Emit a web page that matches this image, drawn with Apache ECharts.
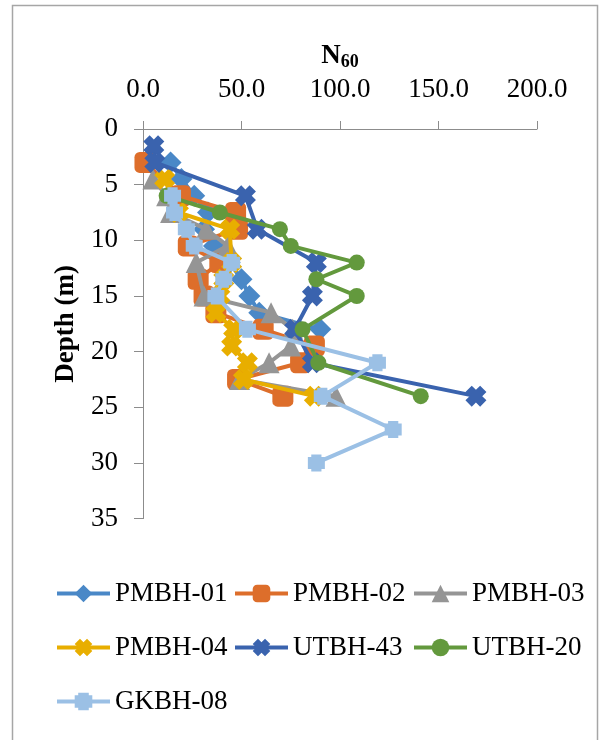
<!DOCTYPE html>
<html>
<head>
<meta charset="utf-8">
<script src="https://cdn.jsdelivr.net/npm/echarts@6/dist/echarts.min.js"></script>
<style>html,body{margin:0;padding:0;background:#fff;}#c{width:601px;height:740px;}</style>
</head>
<body>
<div id="c"></div>
<script>
// ---- data (N60 vs depth in m) ----
const xTicks = [0, 50, 100, 150, 200];
const yTicks = [0, 5, 10, 15, 20, 25, 30, 35];

const pmbh01Depth = [3, 4.5, 6, 7.5, 9, 10.5, 12, 13.5, 15, 16.5, 18];
const pmbh01N     = [14, 19.5, 26, 33, 31, 36, 44, 50, 54, 59, 90];

const pmbh02Depth = [3, 6, 7.5, 9, 10.5, 12, 13.5, 15, 16.5, 18, 19.5, 21, 22.5, 24];
const pmbh02N     = [1, 19, 47, 48, 23, 39, 28, 31, 37, 61, 87, 80, 48, 71];

const pmbh03Depth = [4.5, 6, 7.5, 9, 10.5, 12, 15, 16.5, 18, 19.5, 21, 22.5, 24];
const pmbh03N     = [5, 12, 14, 32, 43, 27, 31, 65, 76, 75, 64, 49, 98];

const pmbh04Depth = [4.5, 7.5, 9, 12, 13.5, 15, 16.5, 18, 19.5, 21, 22.5, 24];
const pmbh04N     = [11, 18, 44, 45, 41, 39, 37, 46, 45, 53, 51, 87];

const utbh43Depth = [1.5, 3, 6, 9, 12, 15, 18, 21, 24];
const utbh43N     = [5.5, 6, 52, 58, 88, 86, 77, 86, 169];

const utbh20Depth = [6, 7.5, 9, 10.5, 12, 13.5, 15, 18, 21, 24];
const utbh20N     = [12, 39, 69.5, 75, 108.5, 88, 108.5, 81, 89, 141];

const gkbh08Depth = [6, 7.5, 9, 10.5, 12, 13.5, 15, 18, 21, 24, 27, 30];
const gkbh08N     = [15, 16, 22, 26, 45, 41, 37, 53, 119, 91, 127, 88];

const seriesNames = ['PMBH-01', 'PMBH-02', 'PMBH-03', 'PMBH-04', 'UTBH-43', 'UTBH-20', 'GKBH-08'];
const colors = ['#4A88C7', '#DD6E2B', '#959595', '#E8AE00', '#3A63AE', '#63993D', '#9BC0E5'];

// ---- build ----
const pairs = (n, d) => n.map((v, i) => [v, d[i]]);
const X_SYMBOL = 'path://M0,3 L3,0 L5,2 L7,0 L10,3 L8,5 L10,7 L7,10 L5,8 L3,10 L0,7 L2,5 Z';
const PLUS_SQ = 'path://M2,0 L8,0 L8,1.5 L10,1.5 L10,8.5 L8,8.5 L8,10 L2,10 L2,8.5 L0,8.5 L0,1.5 L2,1.5 Z';
const defs = [
  {d: pairs(pmbh01N, pmbh01Depth), sym: 'diamond', size: 22},
  {d: pairs(pmbh02N, pmbh02Depth), sym: 'roundRect', size: 21},
  {d: pairs(pmbh03N, pmbh03Depth), sym: 'triangle', size: 21},
  {d: pairs(pmbh04N, pmbh04Depth), sym: X_SYMBOL, size: 21},
  {d: pairs(utbh43N, utbh43Depth), sym: X_SYMBOL, size: 21},
  {d: pairs(utbh20N, utbh20Depth), sym: 'circle', size: 16},
  {d: pairs(gkbh08N, gkbh08Depth), sym: PLUS_SQ, size: 17}
];
const series = defs.map((s, i) => ({
  name: seriesNames[i],
  type: 'line',
  data: s.d,
  symbol: s.sym,
  symbolSize: s.size,
  showAllSymbol: true,
  lineStyle: {color: colors[i], width: 4},
  itemStyle: {color: colors[i]},
  emphasis: {disabled: true},
  animation: false,
  z: 2 + i
}));

const font = 'Liberation Serif';
const legendBase = {
  orient: 'vertical', itemWidth: 53, itemHeight: 22, itemGap: 27, padding: 0,
  top: 580, textStyle: {fontFamily: font, fontSize: 27, color: '#000'},
  lineStyle: {width: 4},
  selectedMode: false
};

const option = {
  backgroundColor: '#fff',
  animation: false,
  color: colors,
  grid: {left: 143, top: 129, width: 394, height: 389.6},
  xAxis: {
    type: 'value', position: 'top', min: xTicks[0], max: xTicks[xTicks.length - 1], interval: 50,
    name: '{a|N}{b|60}', nameLocation: 'middle', nameGap: 45,
    nameTextStyle: {rich: {
      a: {fontFamily: font, fontSize: 27, fontWeight: 'bold', color: '#000'},
      b: {fontFamily: font, fontSize: 18, fontWeight: 'bold', color: '#000', padding: [12, 0, 0, 0]}
    }},
    axisLine: {show: true, lineStyle: {color: '#8c8c8c', width: 1}},
    axisTick: {show: true, inside: false, length: 8, lineStyle: {color: '#8c8c8c'}},
    axisLabel: {fontFamily: font, fontSize: 27, color: '#000', margin: 26,
      formatter: v => v.toFixed(1)},
    splitLine: {show: false}
  },
  yAxis: {
    type: 'value', inverse: true, min: yTicks[0], max: yTicks[yTicks.length - 1], interval: 5,
    name: 'Depth (m)', nameLocation: 'middle', nameGap: 63, nameRotate: 90,
    nameTextStyle: {fontFamily: font, fontSize: 27, fontWeight: 'bold', color: '#000'},
    axisLine: {show: true, lineStyle: {color: '#8c8c8c', width: 1}},
    axisTick: {show: true, inside: false, length: 9, lineStyle: {color: '#8c8c8c'}},
    axisLabel: {fontFamily: font, fontSize: 27, color: '#000', margin: 25},
    splitLine: {show: false}
  },
  legend: [
    Object.assign({}, legendBase, {left: 55, data: [seriesNames[0], seriesNames[3], seriesNames[6]]}),
    Object.assign({}, legendBase, {left: 233, data: [seriesNames[1], seriesNames[4]]}),
    Object.assign({}, legendBase, {left: 412, data: [seriesNames[2], seriesNames[5]]})
  ],
  graphic: [{
    type: 'rect', silent: true,
    shape: {x: 12.5, y: 5.5, width: 585, height: 745},
    style: {fill: 'none', stroke: '#a6a6a6', lineWidth: 1.5}
  }],
  series: series
};

const chart = echarts.init(document.getElementById('c'), null, {renderer: 'canvas'});
chart.setOption(option);
</script>
</body>
</html>
